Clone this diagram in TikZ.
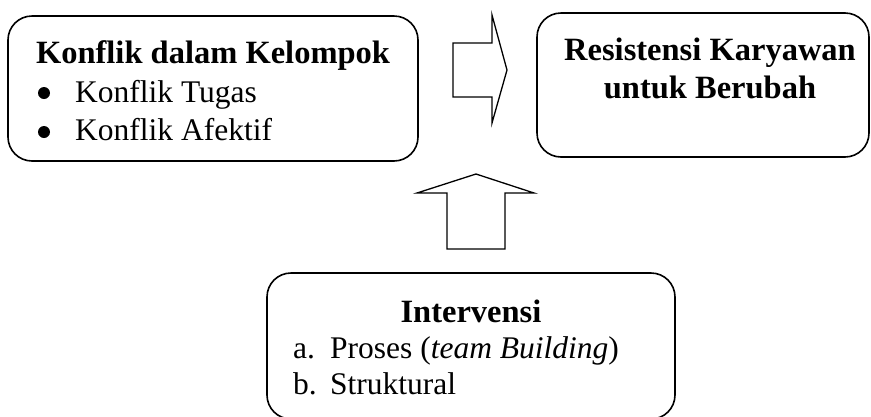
\documentclass[tikz,border=0pt]{standalone}
\usepackage{fontspec}
\setmainfont{Liberation Serif}
\begin{document}
\begin{tikzpicture}[x=1pt,y=-1pt,
  box/.style={draw, line width=1.6pt, rounded corners=24pt, inner sep=0pt},
  blockarrow/.style={draw, line width=1.3pt, line join=miter, fill=white},
  txt/.style={inner sep=0pt, font=\fontsize{31.5}{38}\selectfont},
  head/.style={inner sep=0pt, font=\fontsize{32.5}{38}\selectfont\bfseries},
  dot/.style={circle, fill, inner sep=0pt, minimum size=12pt}]
\useasboundingbox (0,0) rectangle (871,416);

% the three rounded boxes
\node[box, minimum width=410pt, minimum height=145pt] (konflik) at (213,88.5) {};
\node[box, minimum width=332pt, minimum height=144pt] (resist) at (703,85) {};
\node[box, minimum width=408pt, minimum height=146pt] (interv) at (471,346) {};

% group conflict box
\node[head, anchor=base] (k0) at (213,63) {Konflik dalam Kelompok};
\node[dot] (kb1) at (44,93) {};
\node[txt, anchor=base west] (k1) at (75,102) {Konflik Tugas};
\node[dot] (kb2) at (44,132) {};
\node[txt, anchor=base west] (k2) at (75,140) {Konflik Afektif};

% resistance box
\node[head, anchor=base] (r1) at (710,60) {Resistensi Karyawan};
\node[head, anchor=base] (r2) at (710,98) {untuk Berubah};

% intervention box
\node[head, anchor=base] (i0) at (471,322) {Intervensi};
\node[txt, anchor=base west] (ia) at (293,358) {a.};
\node[txt, anchor=base west] (i1) at (330,358) {Proses (\textit{team Building})};
\node[txt, anchor=base west] (ib) at (293,394) {b.};
\node[txt, anchor=base west] (i2) at (330,394) {Struktural};

% block arrows between the boxes
\draw[blockarrow] (453,43) -- (492,43) -- (492,15) -- (507,70) -- (492,123)
  -- (492,97) -- (453,97) -- cycle;
\draw[blockarrow] (447,249) -- (447,193) -- (417,193) -- (476,174) -- (534,193)
  -- (505,193) -- (505,249) -- cycle;
\end{tikzpicture}
\end{document}
